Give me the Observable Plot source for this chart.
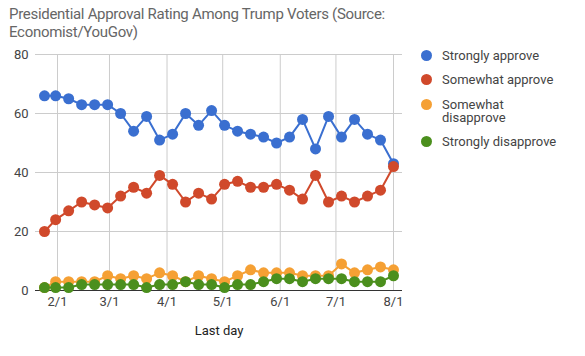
<!DOCTYPE html>
<html>
<head>
<meta charset="utf-8">
<script src="https://cdn.jsdelivr.net/npm/d3@7"></script>
<script src="https://cdn.jsdelivr.net/npm/@observablehq/plot@0.6"></script>
<style>
  html, body { margin: 0; padding: 0; background: #fff; }
  #wrap { position: relative; width: 585px; height: 356px; overflow: hidden; font-family: Roboto, sans-serif; }
  #title { position: absolute; left: 9px; top: 5px; font-size: 15px; letter-spacing: -0.3px; line-height: 18px; color: #666; white-space: nowrap; }
  #chart { position: absolute; left: 0; top: 40px; }
  .leg { position: absolute; left: 421px; font-size: 13px; line-height: 13px; color: #444; }
  .leg .sw { position: absolute; left: 0; top: 1px; width: 11px; height: 11px; border-radius: 50%; }
  .leg .tx { position: absolute; left: 21px; top: 0; width: 126px; white-space: normal; }
</style>
</head>
<body>
<div id="wrap">
  <div id="title">Presidential Approval Rating Among Trump Voters (Source:<br>Economist/YouGov)</div>
  <div id="chart"></div>
</div>
<script>
const dates = ["2017-01-25","2017-01-31","2017-02-07","2017-02-14","2017-02-21","2017-02-28",
  "2017-03-07","2017-03-14","2017-03-21","2017-03-28","2017-04-04","2017-04-11","2017-04-18",
  "2017-04-25","2017-05-02","2017-05-09","2017-05-16","2017-05-23","2017-05-30","2017-06-06",
  "2017-06-13","2017-06-20","2017-06-27","2017-07-04","2017-07-11","2017-07-18","2017-07-25","2017-08-01"];
const stronglyApprove    = [66,66,65,63,63,63,60,54,59,51,53,60,56,61,56,54,53,52,50,52,58,48,59,52,58,53,51,43];
const somewhatApprove    = [20,24,27,30,29,28,32,35,33,39,36,30,33,31,36,37,35,35,36,34,31,39,30,32,30,32,34,42];
const somewhatDisapprove = [1,3,3,3,3,5,4,5,4,6,5,3,5,4,3,5,7,6,6,6,5,5,5,9,6,7,8,7];
const stronglyDisapprove = [1,1,1,2,2,2,2,2,1,2,2,3,2,2,1,2,2,3,4,4,3,4,4,4,3,3,3,5];
const seriesNames  = ["Strongly approve","Somewhat approve","Somewhat disapprove","Strongly disapprove"];
const seriesColors = ["#3a6fd0","#d0492b","#f5a034","#4b8f1d"];
const xTickLabels = ["2/1","3/1","4/1","5/1","6/1","7/1","8/1"];
const yTicks = [0,20,40,60,80];

const seriesValues = [stronglyApprove, somewhatApprove, somewhatDisapprove, stronglyDisapprove];
const data = [];
seriesNames.forEach((s, i) => {
  dates.forEach((d, j) => data.push({series: s, date: new Date(d + "T00:00:00Z"), value: seriesValues[i][j]}));
});
const monthTicks = xTickLabels.map(l => new Date(Date.UTC(2017, +l.split("/")[0] - 1, 1)));
const labelOf = new Map(monthTicks.map((d, i) => [+d, xTickLabels[i]]));

const chart = Plot.plot({
  width: 585, height: 316,
  marginLeft: 35, marginRight: 183, marginTop: 14, marginBottom: 66,
  style: {fontFamily: "Roboto, sans-serif", fontSize: "13px", color: "#444", background: "transparent"},
  x: {type: "utc", domain: [new Date("2017-01-20T03:36:00Z"), new Date("2017-08-05T20:24:00Z")]},
  y: {domain: [0, 80]},
  color: {domain: seriesNames, range: seriesColors},
  marks: [
    Plot.gridY(yTicks.filter(v => v > 0), {stroke: "#ccc", strokeOpacity: 1}),
    Plot.gridX(monthTicks, {stroke: "#ccc", strokeOpacity: 1}),
    Plot.axisY(yTicks, {tickSize: 0, tickPadding: 7, label: null, fill: "#444"}),
    Plot.axisX(monthTicks, {tickSize: 0, tickPadding: 6, fill: "#444",
      tickFormat: d => labelOf.get(+d),
      label: "Last day", labelAnchor: "center", labelArrow: "none", labelOffset: 44}),
    Plot.ruleY([0], {stroke: "#333", strokeWidth: 1}),
    Plot.line(data, {x: "date", y: "value", z: "series", stroke: "series", strokeWidth: 2}),
    Plot.dot(data, {x: "date", y: "value", fill: "series", r: 5.5})
  ]
});
document.getElementById("chart").appendChild(chart);
chart.querySelectorAll("[aria-label='x-axis label'] text").forEach(t => t.setAttribute("fill", "#222"));

const legendTops = [55, 79, 104, 141];
const wrap = document.getElementById("wrap");
seriesNames.forEach((s, i) => {
  const item = document.createElement("div");
  item.className = "leg";
  item.style.top = (legendTops[i] - 6.5) + "px";
  item.innerHTML = `<div class="sw" style="background:${seriesColors[i]}"></div><div class="tx">${s}</div>`;
  wrap.appendChild(item);
});
</script>
</body>
</html>
